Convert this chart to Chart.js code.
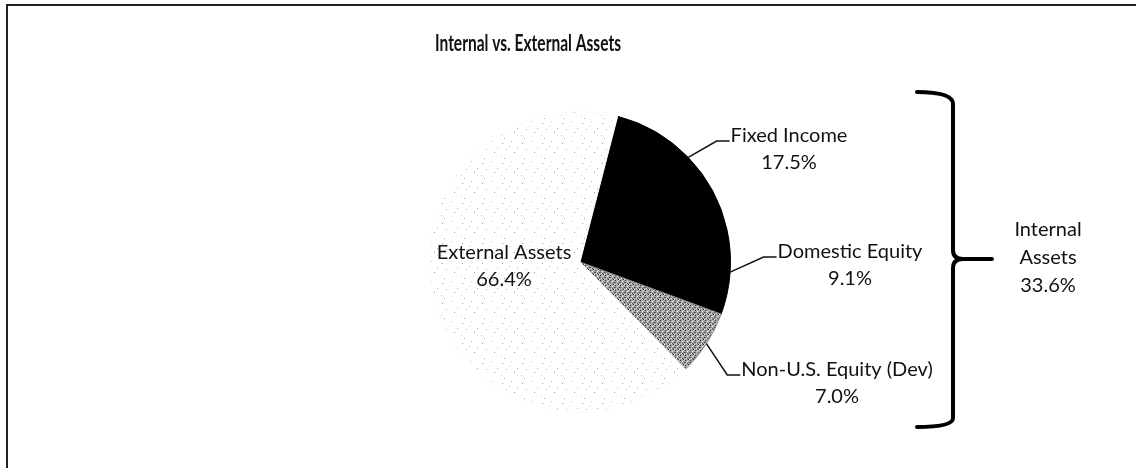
<!DOCTYPE html>
<html>
<head>
<meta charset="utf-8">
<script src="https://cdn.jsdelivr.net/npm/chart.js@4.4.1/dist/chart.umd.min.js"></script>
<style>
  body { margin: 0; background: #fff; }
  canvas { display: block; }
</style>
</head>
<body>
<canvas id="pie-chart" width="1136" height="468"></canvas>
<script>
var chartTitle = 'Internal vs. External Assets';
var categories = ['Fixed Income', 'Domestic Equity', 'Non-U.S. Equity (Dev)', 'External Assets'];
var shares = [17.5, 9.1, 7.0, 66.4];
var shareLabels = ['17.5%', '9.1%', '7.0%', '66.4%'];
var groupLabel = ['Internal', 'Assets', '33.6%'];

// speckled fills, like the scanned original
function speckle(base, dots, size) {
    var c = document.createElement('canvas');
    c.width = size; c.height = size;
    var g = c.getContext('2d');
    g.fillStyle = base;
    g.fillRect(0, 0, size, size);
    dots.forEach(function(d) {
        g.fillStyle = d[2];
        g.fillRect(d[0], d[1], 1, 1);
    });
    return g.createPattern(c, 'repeat');
}

var lightFill = speckle('#ffffff', [
    [2, 3, '#9a9a9a'], [11, 1, '#c8c8c8'], [6, 9, '#b0b0b0'], [14, 12, '#9a9a9a'],
    [1, 15, '#c8c8c8'], [9, 6, '#d8d8d8'], [17, 8, '#b0b0b0'], [4, 18, '#a8a8a8']
], 20);
var greyFill = speckle('#a4a4a4', [
    [0, 0, '#333'], [2, 1, '#eee'], [4, 2, '#444'], [1, 3, '#ddd'], [3, 4, '#222'],
    [0, 2, '#666'], [3, 0, '#ccc'], [4, 4, '#eee'], [2, 3, '#555']
], 5);

var fills = ['#000000', '#000000', greyFill, lightFill];
var edges = ['#000000', '#000000', '#8c8c8c', '#fbfbfb'];

var annotations = {
    id: 'annotations',
    afterDraw: function(chart) {
        var ctx = chart.ctx;
        var arcs = chart.getDatasetMeta(0).data;
        var cx = arcs[0].x, cy = arcs[0].y, r = arcs[0].outerRadius;
        ctx.save();

        // frame
        ctx.strokeStyle = '#222';
        ctx.lineWidth = 2;
        ctx.beginPath();
        ctx.moveTo(7, 468); ctx.lineTo(7, 5); ctx.lineTo(1136, 5);
        ctx.stroke();

        // title, squeezed like the condensed original face
        ctx.fillStyle = '#111';
        ctx.textAlign = 'center';
        ctx.textBaseline = 'alphabetic';
        ctx.font = 'bold 22px Lato';
        var tw = ctx.measureText(chartTitle).width;
        ctx.save();
        ctx.translate(528, 51);
        ctx.scale(186 / tw, 1);
        ctx.fillText(chartTitle, 0, 0);
        ctx.restore();

        // slice labels
        var offsets = [[209, -120], [270, -4], [257, 114], [-76, -3]];
        ctx.font = '20px Lato';
        ctx.lineWidth = 1.5;
        ctx.strokeStyle = '#111';
        categories.forEach(function(name, i) {
            var tx = cx + offsets[i][0], ty = cy + offsets[i][1];
            ctx.fillText(name, tx, ty);
            ctx.fillText(shareLabels[i], tx, ty + 27);
            if (i < 3) {
                var a = arcs[i];
                var mid = (a.startAngle + a.endAngle) / 2;
                var sx = cx + r * Math.cos(mid), sy = cy + r * Math.sin(mid);
                var ex = tx - ctx.measureText(name).width / 2 - 1;
                ctx.beginPath();
                ctx.moveTo(sx, sy);
                ctx.lineTo(ex - 13, ty - 1);
                ctx.lineTo(ex, ty - 1);
                ctx.stroke();
            }
        });

        // brace for internal assets
        var bx = cx + 373;
        ctx.lineWidth = 4;
        ctx.lineCap = 'round';
        ctx.strokeStyle = '#000';
        ctx.beginPath();
        ctx.moveTo(bx - 36, cy - 170);
        ctx.quadraticCurveTo(bx, cy - 170, bx, cy - 158);
        ctx.lineTo(bx, cy - 12);
        ctx.quadraticCurveTo(bx, cy - 3, bx + 10, cy - 3);
        ctx.lineTo(bx + 39, cy - 3);
        ctx.moveTo(bx + 10, cy - 3);
        ctx.quadraticCurveTo(bx, cy - 3, bx, cy + 6);
        ctx.lineTo(bx, cy + 156);
        ctx.quadraticCurveTo(bx, cy + 165, bx - 36, cy + 165);
        ctx.stroke();

        ctx.fillStyle = '#111';
        ctx.font = '20px Lato';
        groupLabel.forEach(function(t, k) {
            ctx.fillText(t, bx + 95, cy - 26 + k * 28);
        });
        ctx.restore();
    }
};

var pieChart = new Chart(document.getElementById('pie-chart'), {
    type: 'pie',
    data: {
        labels: categories,
        datasets: [{
            data: shares,
            backgroundColor: fills,
            borderColor: edges,
            borderWidth: 1
        }]
    },
    options: {
        responsive: false,
        animation: false,
        rotation: 14.5,
        layout: { padding: { left: 429, right: 405, top: 111, bottom: 55 } },
        plugins: {
            legend: { display: false },
            tooltip: { enabled: false },
            title: { display: false }
        }
    },
    plugins: [annotations]
});
</script>
</body>
</html>
